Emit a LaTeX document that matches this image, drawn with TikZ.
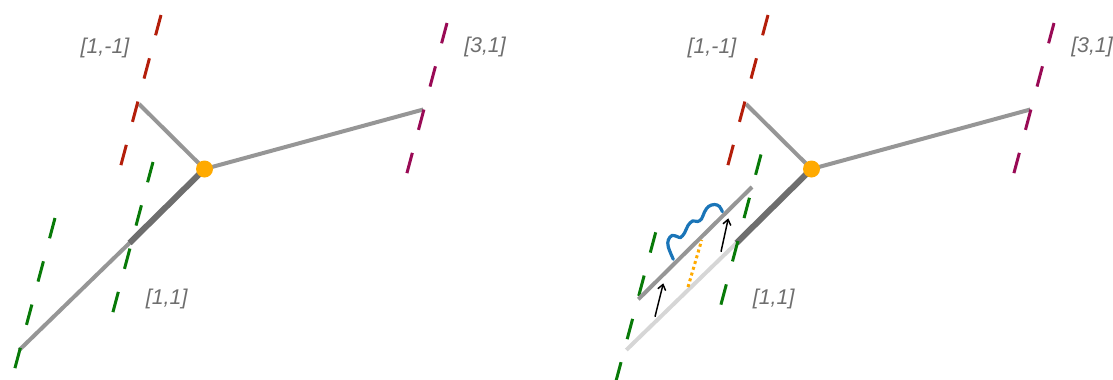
\documentclass[tikz,border=0pt]{standalone}
\usepackage{fontspec}
\setmainfont{Liberation Sans}
\usetikzlibrary{arrows.meta}
\definecolor{rayred}{HTML}{B41E0A}
\definecolor{raygreen}{HTML}{087A08}
\definecolor{raypurple}{HTML}{990A55}
\definecolor{armgray}{HTML}{969696}
\definecolor{coregray}{HTML}{6E6E6E}
\definecolor{ghostgray}{HTML}{D6D6D6}
\definecolor{hubgold}{HTML}{FFAA00}
\definecolor{wavy}{HTML}{1A75B8}
\definecolor{tagtext}{HTML}{6E6E6E}
\tikzset{arm/.style={draw=armgray,line width=3pt},core/.style={draw=coregray,line width=4.5pt},ghost/.style={draw=ghostgray,line width=3pt},ray/.style={draw=#1,line width=2.25pt,dash pattern=on 15.75pt off 17.85pt},tag/.style={text=tagtext,font=\itshape\fontsize{16}{19}\selectfont,inner sep=0pt},hub/.style={circle,fill=hubgold,minimum size=12.75pt,inner sep=0pt},nudge/.style={draw=black,line width=1.1pt,-{Straight Barb[length=4pt,width=6pt]}},wiggle/.style={draw=wavy,line width=2.4pt,line cap=round},gap/.style={draw=hubgold,line width=2.25pt,dash pattern=on 2.25pt off 2.25pt}}

\begin{document}
\begin{tikzpicture}[x=0.75pt,y=-0.75pt]
\useasboundingbox (0,0) rectangle (1113,379);
\foreach \dx/\lo/\gx/\gy/\mx/\my in {0/arm/55/218/153/162,607/ghost/48.7/232.3/154/154.5}{
\begin{scope}[shift={(\dx,0)}]
\coordinate (o) at (204.5,169);
\coordinate (up) at (139,104);
\coordinate (rt) at (423.3,109.5);
\coordinate (jn) at (129.5,243);
\coordinate (lo) at (19.3,350);
\draw[arm] (o) -- (up);
\draw[arm] (o) -- (rt);
\draw[\lo] (jn) -- (lo);
\draw[core] (o) -- (jn);
\draw[ray=rayred] (161,15) -- ++(-40.3,151);
\draw[ray=raypurple] (447,23) -- ++(-40.3,151);
\draw[ray=raygreen] (\mx,\my) -- ++(-40.3,151);
\draw[ray=raygreen] (\gx,\gy) -- ++(-40.3,151);
\node[hub] (dot) at (o) {};
\node[tag] (neg) at (105,48.3) {[1,-1]};
\node[tag] (far) at (485,47.3) {[3,1]};
\node[tag] (pos) at (166.7,299) {[1,1]};
\end{scope}}
% moved copy of the lower arm
\coordinate (s1) at (638.3,299.3);
\coordinate (s2) at (752,187);
\draw[arm] (s1) -- (s2);
\coordinate (g1) at (688,287);
\coordinate (g2) at (701.7,240);
\draw[gap] (g1) -- (g2);
\coordinate (a1) at (655,316.7);
\coordinate (b1) at (663.3,283.3);
\coordinate (a2) at (721,251.7);
\coordinate (b2) at (728.3,218.3);
\draw[nudge] (a1) -- (b1);
\draw[nudge] (a2) -- (b2);
\draw[wiggle] plot[smooth,tension=0.6] coordinates {(673.3,259.3) (668.3,247) (668.3,240) (672,235.5) (677,236.5) (680.5,237.5) (684.5,233) (688,225.5) (692.5,221) (697.5,221.5) (701.5,219) (704.5,212) (708.5,206.5) (714.5,204.5) (719.5,206.5) (722.3,211.7)};
\end{tikzpicture}
\end{document}
